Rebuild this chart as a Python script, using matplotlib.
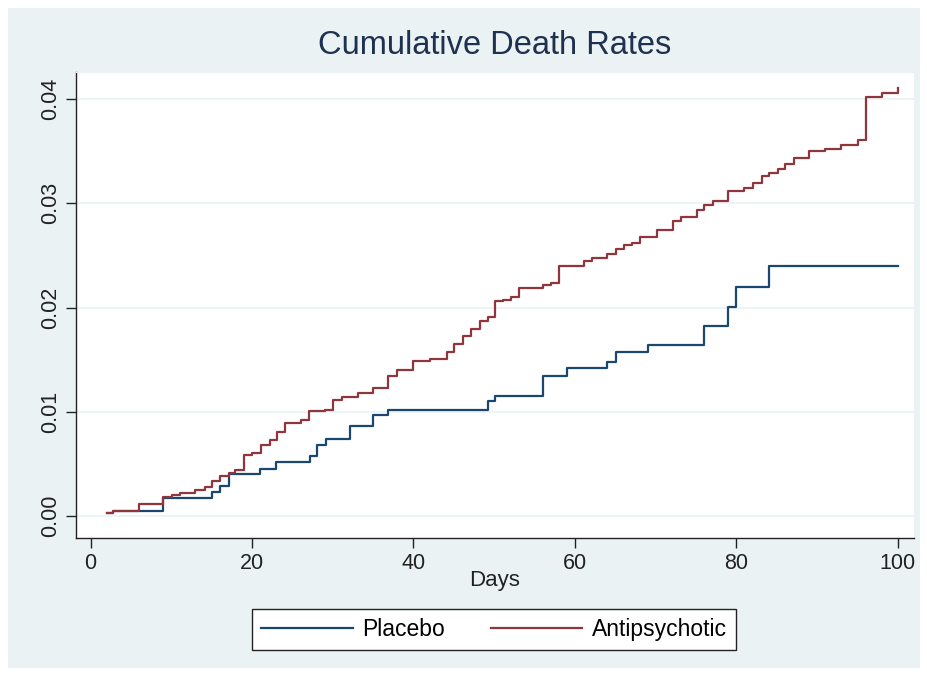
import numpy as np
import matplotlib.pyplot as plt
from matplotlib.patches import Rectangle

# step points (day, cumulative rate)
placebo_days = [2.1, 2.8, 9.0, 15.1, 16.0, 17.1, 21.0, 23.0, 27.2, 28.0, 29.2, 32.2,
                35.0, 36.9, 49.2, 50.1, 56.1, 59.0, 64.0, 65.1, 69.0, 76.0, 79.0,
                80.0, 84.0, 100.0]
placebo_rate = [0.0003, 0.0005, 0.0017, 0.0023, 0.0029, 0.0040, 0.0045, 0.0052,
                0.0058, 0.0068, 0.0074, 0.0086, 0.0097, 0.0102, 0.0110, 0.0115,
                0.0134, 0.0142, 0.0148, 0.0157, 0.0164, 0.0182, 0.0201, 0.0220,
                0.0240, 0.0240]

anti_days = [2.1, 2.8, 6.05, 9.0, 10.05, 11.1, 12.95, 14.2, 15.1, 16.0, 17.2, 17.9,
             19.0, 20.0, 21.1, 22.2, 23.1, 24.1, 26.1, 27.1, 29.05, 30.0, 31.1, 33.1,
             35.0, 36.9, 37.9, 40.0, 42.0, 44.1, 45.0, 46.1, 47.1, 48.2, 49.2, 50.1,
             51.1, 52.1, 53.1, 56.1, 57.0, 58.0, 61.1, 62.1, 64.0, 65.1, 66.1, 67.05,
             68.1, 70.15, 72.1, 73.2, 75.1, 76.05, 77.1, 78.9, 81.0, 82.1, 83.2, 84.1,
             85.1, 86.05, 87.1, 89.05, 91.0, 93.0, 95.05, 96.0, 98.0, 100.0]
anti_rate = [0.0003, 0.0005, 0.00115, 0.0018, 0.0020, 0.0022, 0.0025, 0.0028, 0.0034,
             0.0038, 0.0041, 0.0044, 0.0059, 0.0060, 0.0068, 0.0073, 0.0081, 0.0089,
             0.0092, 0.0101, 0.0102, 0.0111, 0.0114, 0.0118, 0.0123, 0.0134, 0.0140,
             0.0149, 0.0151, 0.0157, 0.0165, 0.0173, 0.0179, 0.0187, 0.0191, 0.0206,
             0.0207, 0.0210, 0.0219, 0.0222, 0.0224, 0.0240, 0.0245, 0.0248, 0.0251,
             0.0256, 0.0260, 0.0262, 0.0268, 0.0274, 0.0283, 0.0287, 0.0294, 0.0298,
             0.0302, 0.0312, 0.0315, 0.0320, 0.0326, 0.0329, 0.0333, 0.0338, 0.0344,
             0.0350, 0.0352, 0.0356, 0.0361, 0.0402, 0.0406, 0.0411]

xticks = [0, 20, 40, 60, 80, 100]
yticks = [0.00, 0.01, 0.02, 0.03, 0.04]

plt.rcParams['font.family'] = ['Liberation Sans', 'DejaVu Sans']

bg = '#EAF2F3'
fig = plt.figure(figsize=(9.28, 6.78), dpi=100, facecolor='white')
fig.patches.append(Rectangle((8 / 928, 10 / 678), 912 / 928, 660 / 678,
                             transform=fig.transFigure, facecolor=bg,
                             edgecolor='none', zorder=-10))

ax = fig.add_axes([76 / 928, 140 / 678, 838 / 928, 466 / 678])
ax.set_zorder(5)
ax.set_facecolor('white')

ax.step(placebo_days, placebo_rate, where='post', color='#1A476F', lw=1.6, label='Placebo')
ax.step(anti_days, anti_rate, where='post', color='#90353B', lw=1.6, label='Antipsychotic')

ax.set_xlim(-1.8, 102.0)
ax.set_ylim(-0.00211, 0.04261)
ax.set_xticks(xticks)
ax.set_yticks(yticks)
ax.set_yticklabels([f'{v:.2f}' for v in yticks], rotation=90, va='center')
ax.tick_params(labelsize=15.5, length=7, width=1, colors='#222222', pad=4)
ax.grid(axis='y', color=bg, lw=1.2)
ax.set_axisbelow(True)
for s in ['top', 'right']:
    ax.spines[s].set_color(bg)
for s in ['left', 'bottom']:
    ax.spines[s].set_color('#222222')
    ax.spines[s].set_linewidth(1)

ax.set_xlabel('Days', fontsize=16, color='#222222', labelpad=-3)

fig.text(495 / 928, 1 - 45 / 678, 'Cumulative Death Rates', ha='center', va='center',
         fontsize=23.5, color='#1E3250')

leg = fig.legend(loc='center', bbox_to_anchor=(494 / 928, 1 - 629.5 / 678), ncol=2,
                 fontsize=16.5, frameon=True, fancybox=False, edgecolor='#222222',
                 framealpha=1, handlelength=4.0, columnspacing=2.0, borderpad=0.4,
                 handletextpad=0.4)
leg.get_frame().set_linewidth(1)
leg.get_frame().set_facecolor('white')

fig.savefig('out.png', dpi=100, facecolor='white')
